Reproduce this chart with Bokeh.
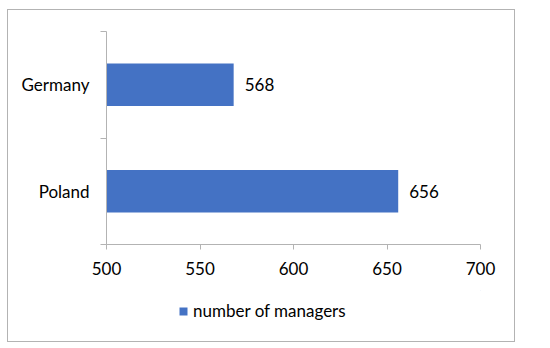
from bokeh.plotting import figure
from bokeh.layouts import column
from bokeh.models import Range1d, FixedTicker, Legend, LegendItem, ColumnDataSource
from bokeh.core.properties import value
from bokeh.embed import file_html
from bokeh.resources import INLINE

# data (bottom to top)
categories = ["Poland", "Germany"]
managers = [656, 568]
series_name = "number of managers"
x_ticks = [500, 550, 600, 650, 700]

FONT = "Lato"
FS = "17px"
BLUE = "#4472C4"
GREY = "#b3b3b3"

ypos = [i + 0.5 for i in range(len(categories))]
src = ColumnDataSource(dict(y=ypos, v=managers, lbl=[str(v) for v in managers]))

p = figure(width=508, height=281, output_backend="svg", toolbar_location=None,
           x_range=Range1d(500, 700), y_range=Range1d(0, len(categories)),
           min_border_left=99, min_border_right=35, min_border_top=22, min_border_bottom=46)
p.outline_line_color = None
p.grid.visible = False
p.background_fill_alpha = 0
p.border_fill_alpha = 0
p.styles = {"box-shadow": f"inset 1px 1px 0 {GREY}, inset -1px 0 0 {GREY}"}

r = p.hbar(y="y", right="v", left=500, height=0.4, source=src, fill_color=BLUE, line_color=None)
p.text(x="v", y="y", text="lbl", source=src, x_offset=11, text_baseline="middle",
       text_align="left", text_font=value(FONT), text_font_size=FS, text_color="#000000")

xa = p.xaxis[0]
xa.ticker = FixedTicker(ticks=x_ticks)
xa.axis_line_color = GREY
xa.major_tick_line_color = GREY
xa.major_tick_out = 5
xa.major_tick_in = 0
xa.minor_tick_line_color = None
xa.major_label_text_font = FONT
xa.major_label_text_font_size = FS
xa.major_label_text_color = "#000000"
xa.major_label_standoff = 12

ya = p.yaxis[0]
ya.ticker = FixedTicker(ticks=ypos, minor_ticks=list(range(len(categories) + 1)))
ya.major_label_overrides = {y: c for y, c in zip(ypos, categories)}
ya.axis_line_color = GREY
ya.major_tick_line_color = None
ya.major_tick_out = 0
ya.major_tick_in = 0
ya.minor_tick_line_color = GREY
ya.minor_tick_out = 6
ya.minor_tick_in = 0
ya.major_label_text_font = FONT
ya.major_label_text_font_size = FS
ya.major_label_text_color = "#000000"
ya.major_label_standoff = 11

# legend strip below the chart
lf = figure(width=508, height=52, output_backend="svg", toolbar_location=None,
            x_axis_location=None, y_axis_location=None,
            x_range=Range1d(0, 1), y_range=Range1d(0, 1),
            min_border_left=99, min_border_right=35, min_border_top=0, min_border_bottom=0)
lf.outline_line_color = None
lf.grid.visible = False
lf.background_fill_alpha = 0
lf.border_fill_alpha = 0
lf.styles = {"box-shadow": f"inset 1px -1px 0 {GREY}, inset -1px 0 0 {GREY}"}
# legend swatch source: one bar placed far outside the visible range
lr = lf.hbar(y=[50], right=[60], left=50, height=0.4, fill_color=BLUE, line_color=None)

legend = Legend(items=[LegendItem(label=series_name, renderers=[lr])],
                location=(72, 21), orientation="horizontal",
                glyph_width=10, glyph_height=10, label_standoff=5,
                padding=0, margin=0, border_line_color=None, background_fill_alpha=0,
                label_text_font=FONT, label_text_font_size=FS, label_text_color="#000000")
lf.add_layout(legend, "center")

layout = column(p, lf, spacing=0)
layout.styles = {"transform": "translate(7px, 9px)"}

open("out.html", "w").write(file_html(layout, INLINE))
